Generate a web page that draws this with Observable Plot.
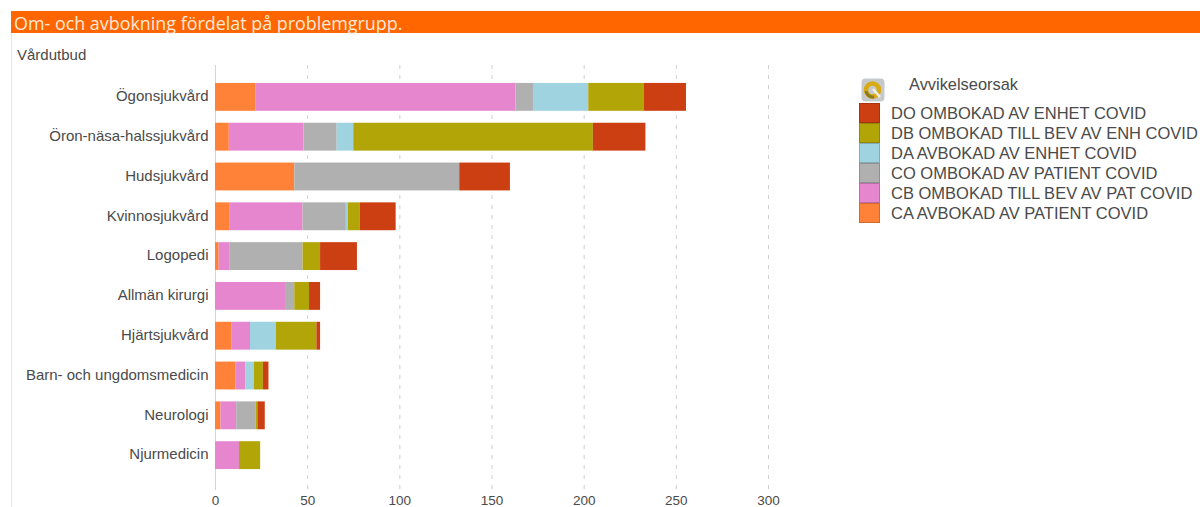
<!DOCTYPE html>
<html lang="sv">
<head>
<meta charset="utf-8">
<script src="https://cdn.jsdelivr.net/npm/d3@7"></script>
<script src="https://cdn.jsdelivr.net/npm/@observablehq/plot@0.6"></script>
<style>
  html, body { margin: 0; padding: 0; background: #fff; width: 1200px; height: 507px; overflow: hidden; }
  body { position: relative; font-family: "Liberation Sans", Arial, sans-serif; color: #4a4a4a; }
  #title { position: absolute; left: 11px; top: 11px; width: 1189px; height: 22px; background: #ff6600; color: #ffe9d8;
           font: 17.9px/25px "Open Sans", sans-serif; box-sizing: border-box; padding-left: 3px; white-space: nowrap; }
  #edge { position: absolute; left: 11px; top: 33px; width: 1px; height: 474px; background: #e6e6e6; }
  #axisname { position: absolute; left: 17px; top: 47px; font-size: 15px; line-height: 15px; }
  #chart { position: absolute; left: 0; top: 33px; }
  #legend { position: absolute; left: 859px; top: 73px; }
  #legend .head { display: flex; align-items: center; height: 30px; font-size: 16.4px; }
  #legend .head svg { margin-left: 2px; margin-top: 3px; }
  #legend .head span { margin-left: 24px; margin-top: -8px; }
  #legend .row { display: flex; align-items: center; height: 20px; font-size: 16.5px; white-space: nowrap; }
  #legend .sw { width: 21px; height: 20px; margin-right: 11px; box-sizing: border-box; border: 1px solid rgba(0,0,0,.18); flex: none; }
</style>
</head>
<body>
<div id="title">Om- och avbokning fördelat på problemgrupp.</div>
<div id="edge"></div>
<div id="axisname">Vårdutbud</div>
<div id="chart"></div>
<div id="legend"></div>
<script>
// Care services, top to bottom
const services = ["Ögonsjukvård", "Öron-näsa-halssjukvård", "Hudsjukvård", "Kvinnosjukvård", "Logopedi",
  "Allmän kirurgi", "Hjärtsjukvård", "Barn- och ungdomsmedicin", "Neurologi", "Njurmedicin"];

// Bookings per deviation cause, one value per care service
const ca = [22, 7.5, 43, 8, 2, 0, 9, 11, 3, 0];
const cb = [141, 40.5, 0, 39.5, 6, 38, 10, 5.5, 8.5, 13];
const co = [9.5, 18, 89.5, 23.5, 39.5, 5, 0, 0, 10.5, 0];
const da = [30, 9, 0, 1, 0, 0, 14, 4.5, 0, 0];
const db = [30, 130, 0, 6.5, 9.5, 8, 22, 5, 1, 11.5];
const dO = [23, 28.5, 27.5, 19.5, 20, 6, 2, 3, 4, 0];

const causes = [
  {name: "CA AVBOKAD AV PATIENT COVID", values: ca, color: "#ff8238"},
  {name: "CB OMBOKAD TILL BEV AV PAT COVID", values: cb, color: "#e586cf"},
  {name: "CO OMBOKAD AV PATIENT COVID", values: co, color: "#b0b0b0"},
  {name: "DA AVBOKAD AV ENHET COVID", values: da, color: "#9fd3e0"},
  {name: "DB OMBOKAD TILL BEV AV ENH COVID", values: db, color: "#b2a508"},
  {name: "DO OMBOKAD AV ENHET COVID", values: dO, color: "#cc3f12"}
];

const rows = causes.flatMap(c => services.map((service, i) => ({service, cause: c.name, value: c.values[i]})));
const xTicks = [0, 50, 100, 150, 200, 250, 300];

const chart = Plot.plot({
  width: 1200,
  height: 474,
  marginLeft: 215,
  marginRight: 432,
  marginTop: 32,
  marginBottom: 17,
  style: {fontFamily: "'Liberation Sans', Arial, sans-serif", color: "#4a4a4a", background: "transparent"},
  x: {domain: [0, 300], ticks: xTicks},
  y: {domain: services, range: [38, 448], padding: 0.3, round: false},
  color: {domain: causes.map(c => c.name), range: causes.map(c => c.color)},
  marks: [
    Plot.ruleX(xTicks.slice(1), {stroke: "#cfcfcf", strokeDasharray: "4,6", strokeWidth: 1}),
    Plot.ruleX([0], {stroke: "#d4d4d4"}),
    Plot.barX(rows, {x: "value", y: "service", fill: "cause"}),
    Plot.axisX({ticks: xTicks, tickSize: 0, tickPadding: 5, label: null, fontSize: 13.5}),
    Plot.axisY({tickSize: 0, tickPadding: 7, label: null, fontSize: 15, dy: -1})
  ]
});
document.getElementById("chart").append(chart);

// Legend lists the causes in reverse stacking order
const legend = d3.select("#legend");
const head = legend.append("div").attr("class", "head");
head.html(`<svg width="24" height="24" viewBox="0 0 24 24">
  <rect x="0.5" y="0.5" width="23" height="23" rx="4" fill="#c6c9cc"/>
  <circle cx="11.5" cy="12" r="6.5" fill="none" stroke="#d9ab12" stroke-width="4.5"/>
  <path d="M5 13 A7 7 0 0 0 13 19" fill="none" stroke="#8a7a22" stroke-width="3"/>
  <path d="M12 11 L19 19" stroke="#f4efe0" stroke-width="2.5"/>
</svg><span>Avvikelseorsak</span>`);
const entries = legend.selectAll(".row").data(causes.slice().reverse()).join("div").attr("class", "row");
entries.append("div").attr("class", "sw").style("background", d => d.color);
entries.append("span").text(d => d.name);
</script>
</body>
</html>
